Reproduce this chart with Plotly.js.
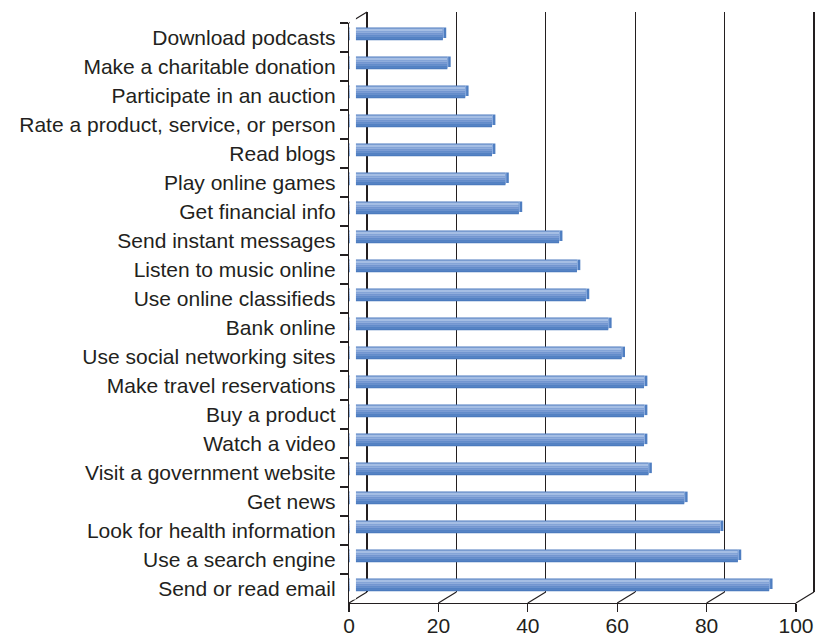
<!DOCTYPE html>
<html>
<head>
<meta charset="utf-8">
<script src="https://cdn.plot.ly/plotly-3.0.1.min.js"></script>
<style>html,body{margin:0;padding:0;background:#fff;}#chart{width:822px;height:638px;}</style>
</head>
<body>
<div id="chart"></div>
<script>
// ---- data ----
const activities = [
  "Download podcasts",
  "Make a charitable donation",
  "Participate in an auction",
  "Rate a product, service, or person",
  "Read blogs",
  "Play online games",
  "Get financial info",
  "Send instant messages",
  "Listen to music online",
  "Use online classifieds",
  "Bank online",
  "Use social networking sites",
  "Make travel reservations",
  "Buy a product",
  "Watch a video",
  "Visit a government website",
  "Get news",
  "Look for health information",
  "Use a search engine",
  "Send or read email"
];
const percents = [21, 22, 26, 32, 32, 35, 38, 47, 51, 53, 58, 61, 66, 66, 66, 67, 75, 83, 87, 94];
const xTickVals = [0, 20, 40, 60, 80, 100];

// ---- geometry (pixels) ----
const W = 822, H = 638;
const front = {x0: 349, x1: 796, y0: 23, y1: 603};
const depth = {dx: 18, dy: -11};        // back wall offset
const barShiftY = -3.6;                  // bars sit slightly behind the front plane
const px2 = v => v / W;
const py2 = v => 1 - v / H;
const catPx = (front.y1 - front.y0) / activities.length;
const unitPx = (front.x1 - front.x0) / 100;
const wallPad = 0.6;                     // keeps the end grid lines inside the wall subplot

const ink = "#231f20";
const fontFam = "'Liberation Sans', Arial, Helvetica, sans-serif";
const nCat = activities.length;
const catRange = [nCat - 0.5, -0.5];

// bar layers: [topPx, bottomPx, color] relative to bar centre
const layers = [
  [-6.3, 6.3, "#4a79bd"],
  [-5.3, -2.6, "#a5bee4"],
  [-2.6, -0.6, "#90addc"],
  [-0.6, 1.4, "#7b9cd4"],
  [1.4, 3.4, "#6890cc"],
  [3.4, 5.4, "#5583c4"]
];

const traces = [];
// back wall dummy (x / y)
traces.push({type: "scatter", x: [50], y: [0.5], xaxis: "x", yaxis: "y", mode: "markers",
  marker: {opacity: 0}, hoverinfo: "skip", showlegend: false});

layers.forEach(L => {
  traces.push({
    type: "bar", orientation: "h", y: activities, x: percents,
    xaxis: "x2", yaxis: "y2",
    width: (L[1] - L[0]) / catPx, offset: L[0] / catPx,
    marker: {color: L[2], line: {width: 0}},
    hoverinfo: "skip", showlegend: false
  });
});
// end caps
traces.push({
  type: "bar", orientation: "h", y: activities, x: percents.map(() => 0.75), base: percents,
  xaxis: "x2", yaxis: "y2",
  width: 10.5 / catPx, offset: -6.3 / catPx,
  marker: {color: "#4f7ec1", line: {width: 0}},
  hoverinfo: "skip", showlegend: false
});
traces.push({
  type: "bar", orientation: "h", y: activities, x: percents.map(() => 0.22), base: percents,
  xaxis: "x2", yaxis: "y2",
  width: 10 / catPx, offset: -5.8 / catPx,
  marker: {color: "#8eaedf", line: {width: 0}},
  hoverinfo: "skip", showlegend: false
});
// front axes dummy
traces.push({type: "scatter", x: activities.map(() => 0), y: activities, xaxis: "x3", yaxis: "y3",
  mode: "markers", marker: {opacity: 0}, hoverinfo: "skip", showlegend: false});

// decorative frame lines (derived from the tick values)
const shapes = [];
const lineStyle = {color: ink, width: 1.2};
const xPx = t => front.x0 + unitPx * t;
xTickVals.forEach(t => {
  shapes.push({type: "line", xref: "paper", yref: "paper",
    x0: px2(xPx(t)), y0: py2(front.y1), x1: px2(xPx(t) + depth.dx), y1: py2(front.y1 + depth.dy),
    line: lineStyle, layer: "above"});
});
// right edge of the back wall
const tMax = xTickVals[xTickVals.length - 1];
shapes.push({type: "line", xref: "paper", yref: "paper",
  x0: px2(xPx(tMax) + depth.dx), x1: px2(xPx(tMax) + depth.dx),
  y0: py2(front.y1 + depth.dy), y1: py2(front.y0 + depth.dy),
  line: lineStyle, layer: "above"});
shapes.push({type: "line", xref: "paper", yref: "paper",
  x0: px2(front.x0), y0: py2(front.y0), x1: px2(front.x0 + depth.dx), y1: py2(front.y0 + depth.dy),
  line: lineStyle, layer: "above"});
// gap between the front axis and the bars
shapes.push({type: "rect", xref: "x2", yref: "paper", x0: 0.15, x1: 1.55,
  y0: py2(front.y1 + barShiftY), y1: py2(front.y0 + barShiftY - 4),
  fillcolor: "#ffffff", line: {width: 0}, layer: "above"});

const layout = {
  width: W, height: H,
  margin: {l: 0, r: 0, t: 0, b: 0},
  paper_bgcolor: "#ffffff", plot_bgcolor: "rgba(0,0,0,0)",
  barmode: "overlay", hovermode: false, showlegend: false,
  font: {family: fontFam, color: ink, size: 21},
  // back wall
  xaxis: {domain: [px2(front.x0 + depth.dx - wallPad * unitPx), px2(front.x1 + depth.dx + wallPad * unitPx)],
    range: [-wallPad, 100 + wallPad],
    tickvals: xTickVals, showticklabels: false, ticks: "", showgrid: true, gridcolor: ink,
    gridwidth: 1.2, zeroline: false, showline: false, anchor: "y", fixedrange: true},
  yaxis: {domain: [py2(front.y1 + depth.dy), py2(front.y0 + depth.dy)], range: [0, 1],
    showgrid: false, zeroline: false, showticklabels: false, ticks: "",
    showline: false, anchor: "x", fixedrange: true},
  // bars
  xaxis2: {domain: [px2(front.x0), px2(front.x1)], range: [0, 100], visible: false, anchor: "y2", fixedrange: true},
  yaxis2: {domain: [py2(front.y1 + barShiftY), py2(front.y0 + barShiftY)], type: "category",
    categoryarray: activities, categoryorder: "array", range: catRange, visible: false, anchor: "x2", fixedrange: true},
  // front axes
  xaxis3: {domain: [px2(front.x0), px2(front.x1)], range: [0, 100], anchor: "y3",
    tickvals: xTickVals, ticktext: xTickVals.map(String), showline: true, linecolor: ink, linewidth: 1.2,
    ticks: "outside", ticklen: 8, tickwidth: 1.2, tickcolor: ink, showgrid: false, zeroline: false,
    ticklabelstandoff: -4,
    tickfont: {size: 21, color: ink, family: fontFam}, fixedrange: true},
  yaxis3: {domain: [py2(front.y1), py2(front.y0)], type: "category", categoryarray: activities,
    categoryorder: "array", range: catRange, anchor: "x3", showline: true, linecolor: ink, linewidth: 1.2,
    ticks: "outside", tickson: "boundaries", ticklen: 8, tickwidth: 1.2, tickcolor: ink,
    ticklabelstandoff: 8,
    showgrid: false, zeroline: false, tickfont: {size: 21, color: ink, family: fontFam}, fixedrange: true},
  shapes: shapes
};

Plotly.newPlot("chart", traces, layout, {displayModeBar: false, staticPlot: true});
</script>
</body>
</html>
